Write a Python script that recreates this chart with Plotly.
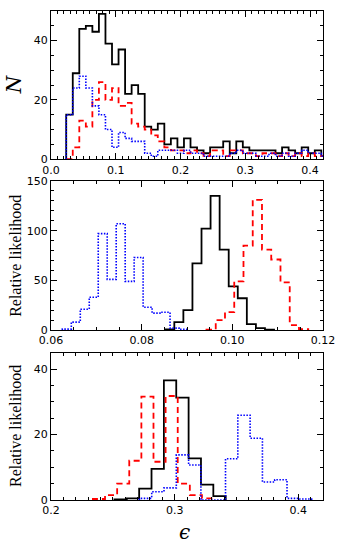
import numpy as np
import plotly.graph_objects as go

# ---- panel 1: counts N vs epsilon (shared bins) ----
p1_start = 0.0235
p1_width = 0.0101
p1_black = [15, 29, 44, 45, 43, 49, 39, 32, 37, 22, 25, 22, 11, 10, 12, 5, 7, 4, 7, 4,
            3, 2, 4, 4, 6, 2, 6, 4, 3, 3, 3, 3, 2, 4, 3, 2, 4, 2, 3, 1]
p1_red = [0, 4, 13, 11, 20, 26, 20, 24, 18, 19, 12, 11, 10, 8, 6, 4, 3, 3, 2, 3,
          2, 1, 3, 3, 1, 3, 3, 2, 2, 1, 2, 2, 1, 2, 1, 2, 1, 2, 1, 1]
p1_blue = [15, 24, 28, 24, 18, 15, 10, 4, 9, 7, 6, 6, 2, 1, 3, 3, 3, 2, 3, 2,
           2, 1, 1, 1, 1, 2, 3, 2, 2, 1, 1, 2, 1, 2, 1, 2, 3, 2, 2, 1]

# ---- panel 2: relative likelihood ----
p2_black_start, p2_black_width = 0.0852, 0.0020
p2_black = [0.7, 8, 20, 67, 102, 135, 81, 44, 32, 6, 2, 0.5]
p2_red_start, p2_red_width = 0.0943, 0.00204
p2_red = [0.5, 10, 18, 49, 85, 131, 81, 71, 48, 5, 1]
p2_blue_start, p2_blue_width = 0.0625, 0.00198
p2_blue = [1, 8, 21, 33, 97, 51, 107, 49, 73, 23, 17, 18, 2, 0.7]

# ---- panel 3: relative likelihood ----
p3_black_start, p3_black_width = 0.2513, 0.0100
p3_black = [0.2, 0.5, 3.5, 9.5, 36.6, 31.3, 12.7, 4.7, 1.2]
p3_red_start, p3_red_width = 0.2339, 0.0098
p3_red = [0.3, 1.5, 5, 12, 31.6, 11.7, 31.8, 5, 1.5, 0.5]
p3_blue_start, p3_blue_width = 0.2715, 0.00995
p3_blue = [0.5, 2.5, 3.7, 13.8, 10.7, 0, 0, 12.6, 25.9, 18.9, 5.5, 6.2, 0.5, 0.3]


def stepTrace(start, width, counts, color, dash, lw, xa, ya):
    edges = start + width * np.arange(len(counts) + 1)
    xs = [edges[0]] + list(edges)
    ys = [0] + list(counts) + [0]
    return go.Scatter(x=xs, y=ys, mode="lines", line_shape="hv",
                      line=dict(color=color, dash=dash, width=lw),
                      xaxis=xa, yaxis=ya, showlegend=False, hoverinfo="skip")


fig = go.Figure()

panels = [
    ("x", "y", [(p1_start, p1_width, p1_black), (p1_start, p1_width, p1_red), (p1_start, p1_width, p1_blue)]),
    ("x2", "y2", [(p2_black_start, p2_black_width, p2_black), (p2_red_start, p2_red_width, p2_red),
                  (p2_blue_start, p2_blue_width, p2_blue)]),
    ("x3", "y3", [(p3_black_start, p3_black_width, p3_black), (p3_red_start, p3_red_width, p3_red),
                  (p3_blue_start, p3_blue_width, p3_blue)]),
]
styles = [("black", "solid", 1.8), ("#ff0000", "6px,4px", 1.8), ("#0000ff", "1.5px,1.5px", 1.6)]

for xa, ya, series in panels:
    for (start, width, counts), (col, dash, lw) in zip(series, styles):
        fig.add_trace(stepTrace(start, width, counts, col, dash, lw, xa, ya))

tickfont = dict(family="DejaVu Sans", size=11, color="black")


def axisStyle(rng, dtick, minor, fmt=None, domain=None, anchor=None):
    d = dict(range=rng, dtick=dtick, tick0=0, ticks="inside", ticklen=6, tickwidth=1,
             tickcolor="black", showline=True, linecolor="black", linewidth=1.3,
             mirror="allticks", showgrid=False, zeroline=False, tickfont=tickfont,
             minor=dict(dtick=minor, tick0=0, ticks="inside", ticklen=3, tickcolor="black",
                        tickwidth=1, showgrid=False))
    if fmt:
        d["tickformat"] = fmt
    if domain:
        d["domain"] = domain
    if anchor:
        d["anchor"] = anchor
    return d


fig.update_layout(
    width=340, height=544,
    margin=dict(l=51, r=14, t=5, b=44),
    plot_bgcolor="white", paper_bgcolor="white",
    xaxis=axisStyle([0, 0.42], 0.1, 0.01, ".1f", anchor="y"),
    yaxis=axisStyle([0, 50], 20, 5, domain=[0.697, 1.0], anchor="x"),
    xaxis2=axisStyle([0.06, 0.12], 0.02, 0.005, ".2f", anchor="y2"),
    yaxis2=axisStyle([0, 150], 50, 10, domain=[0.3475, 0.6525], anchor="x2"),
    xaxis3=axisStyle([0.2, 0.42], 0.1, 0.01, ".1f", anchor="y3"),
    yaxis3=axisStyle([0, 45], 20, 5, domain=[0.0, 0.301], anchor="x3"),
)

serif = "DejaVu Serif"
labelfont = dict(family="Liberation Serif", size=16, color="black")
fig.add_annotation(text="<i>N</i>", xref="paper", yref="paper", x=-0.133, y=0.85,
                   xanchor="center", yanchor="middle",
                   textangle=-90, showarrow=False, font=dict(family=serif, size=20, color="black"))
fig.add_annotation(text="Relative likelihood", xref="paper", yref="paper", x=-0.131, y=0.5,
                   xanchor="center", yanchor="middle",
                   textangle=-90, showarrow=False, font=labelfont)
fig.add_annotation(text="Relative likelihood", xref="paper", yref="paper", x=-0.131, y=0.152,
                   xanchor="center", yanchor="middle",
                   textangle=-90, showarrow=False, font=labelfont)
fig.add_annotation(text="<i>ϵ</i>", xref="paper", yref="paper", x=0.49, y=-0.065,
                   xanchor="center", yanchor="middle",
                   showarrow=False, font=dict(family=serif, size=20, color="black"))

fig.write_html("out.html", config={"displayModeBar": False},
               post_script="document.body.style.margin='0';")
